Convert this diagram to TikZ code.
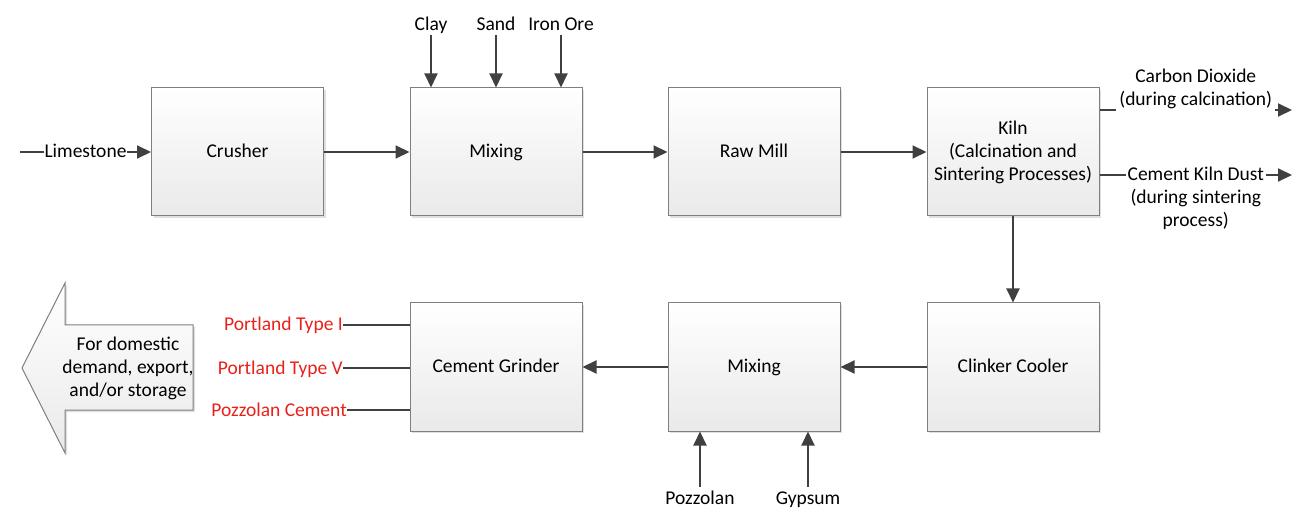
\documentclass[tikz,border=0pt]{standalone}
\usepackage{fontspec}
\setmainfont{Carlito}
\usetikzlibrary{arrows.meta,shadows}
\definecolor{lc}{HTML}{404040}
\definecolor{bd}{HTML}{7F7F7F}
\definecolor{rd}{HTML}{E8211B}
\newcommand\mystrut{\rule[-3pt]{0pt}{18pt}}
\begin{document}
\begin{tikzpicture}[x=1pt,y=-1pt,
  font=\fontsize{19.5}{23}\selectfont,
  box/.style={draw=bd, line width=1pt, top color=white, bottom color=gray!17,
    minimum width=172pt, minimum height=128pt, align=center,
    drop shadow={shadow xshift=2pt, shadow yshift=-2pt, opacity=0.25}},
  arr/.style={draw=lc, line width=2pt, -{Triangle[length=14pt,width=13pt]}},
  ln/.style={draw=lc, line width=2pt},
  lab/.style={fill=white, inner sep=1pt, align=center},
  txt/.style={text height=15pt, text depth=3pt},
  red/.style={text=rd, inner sep=0pt, anchor=east, text height=15pt, text depth=3pt}]
\useasboundingbox (0,0) rectangle (1315,521);

% boxes
\node[box] (crusher) at (237.5,152) {\mystrut Crusher};
\node[box] (mix1) at (496,152) {\mystrut Mixing};
\node[box] (raw) at (754,152) {\mystrut Raw Mill};
\node[box] (kiln) at (1013,152) {Kiln\\(Calcination and\\Sintering Processes)};
\node[box] (clinker) at (1013,367) {\mystrut Clinker Cooler};
\node[box] (mix2) at (754,367) {\mystrut Mixing};
\node[box] (grinder) at (496,367) {\mystrut Cement Grinder};

% limestone
\coordinate (ls) at (20,152);
\draw[arr] (ls) -- node[lab, txt] {Limestone} (crusher.west);

% main flow
\draw[arr] (crusher) -- (mix1);
\draw[arr] (mix1) -- (raw);
\draw[arr] (raw) -- (kiln);
\draw[arr] (kiln) -- (clinker);
\draw[arr] (clinker) -- (mix2);
\draw[arr] (mix2) -- (grinder);

% top inputs
\node[txt, inner sep=1pt] (clay) at (431,25) {Clay};
\node[txt, inner sep=1pt] (sand) at (496,25) {Sand};
\node[txt, inner sep=1pt] (iron) at (561,25) {Iron Ore};
\draw[arr] (clay.south) -- (clay.south |- mix1.north);
\draw[arr] (sand.south) -- (sand.south |- mix1.north);
\draw[arr] (iron.south) -- (iron.south |- mix1.north);

% bottom inputs
\node[txt, inner sep=2pt] (pozz) at (700,498) {Pozzolan};
\node[txt, inner sep=2pt] (gyps) at (808,498) {Gypsum};
\draw[arr] (pozz.north) -- (pozz.north |- mix2.south);
\draw[arr] (gyps.north) -- (gyps.north |- mix2.south);

% kiln outputs
\coordinate (co2) at (1292,110);
\coordinate (ckd) at (1292,175);
\draw[arr] (kiln.east |- co2) -- node[lab, yshift=21pt, inner sep=3pt] {Carbon Dioxide\\(during calcination)} (co2);
\draw[arr] (kiln.east |- ckd) -- node[lab, yshift=-23pt, inner sep=2pt] {Cement Kiln Dust\\(during sintering\\process)} (ckd);

% products
\node[red] (p1) at (343,325) {Portland Type I};
\node[red] (p2) at (343,368) {Portland Type V};
\node[red] (p3) at (347,410) {Pozzolan Cement};
\draw[ln] (p1.east) -- (p1.east -| grinder.west);
\draw[ln] (p2.east) -- (p2.east -| grinder.west);
\draw[ln] (p3.east) -- (p3.east -| grinder.west);

% destination arrow
\draw[draw=bd, line width=1pt, top color=white, bottom color=gray!17,
  drop shadow={shadow xshift=2pt, shadow yshift=-2pt, opacity=0.25}]
  (22,368) -- (65,283) -- (65,325) -- (193,325) -- (193,410) -- (65,410) -- (65,453) -- cycle;
\node[align=center] (dest) at (128,368) {For domestic\\demand, export,\\and/or storage};
\end{tikzpicture}
\end{document}
